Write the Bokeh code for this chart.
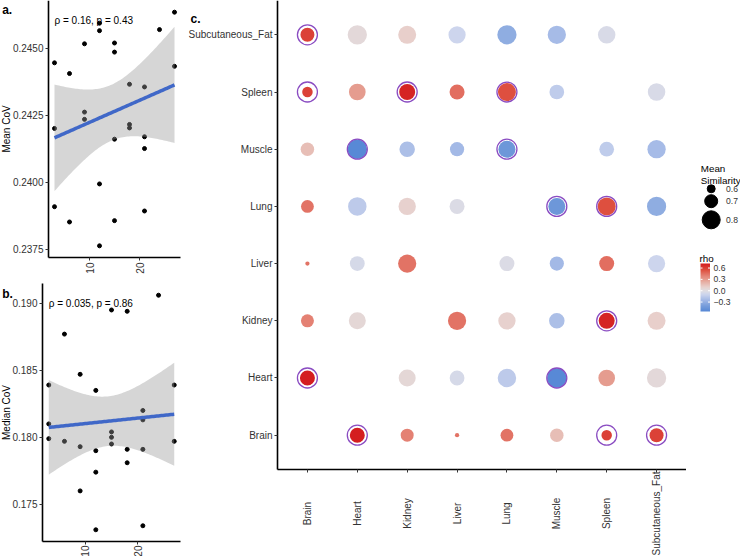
import numpy as np
from bokeh.plotting import figure
from bokeh.models import (Range1d, FixedTicker, PrintfTickFormatter,
                          ColumnDataSource, LinearColorMapper)
from bokeh.layouts import row, column
from bokeh.embed import file_html
from bokeh.resources import INLINE
from bokeh.core.properties import value

FONT = "Liberation Sans"

# ---------------- panels a / b data ----------------
donor_x = [3, 3, 3, 6, 6, 9, 9, 9, 12, 12, 12, 12, 15, 15, 15, 15,
           18, 18, 18, 21, 21, 21, 21, 24, 27, 27]
mean_cov = [0.24446, 0.24201, 0.23909, 0.24406, 0.23852, 0.24517, 0.24262, 0.24235,
            0.24594, 0.24566, 0.23994, 0.23763, 0.24520, 0.24486, 0.24161, 0.23857,
            0.24366, 0.24216, 0.24203, 0.24356, 0.24170, 0.24126, 0.23893, 0.24570,
            0.24635, 0.24433]
median_cov = [0.1839, 0.1810, 0.1799, 0.1877, 0.1797, 0.1847, 0.1793, 0.1760,
              0.1835, 0.1790, 0.1774, 0.1731, 0.1895, 0.1804, 0.1800, 0.1795,
              0.1894, 0.1791, 0.1781, 0.1820, 0.1813, 0.1791, 0.1734, 0.1906,
              0.1839, 0.1797]
x_ticks = [10, 20]
mean_ticks = [0.2375, 0.2400, 0.2425, 0.2450]
median_ticks = [0.175, 0.180, 0.185, 0.190]
note_a = "ρ = 0.16, p = 0.43"
note_b = "ρ = 0.035, p = 0.86"
note_a_y = 0.24605
note_b_y = 0.1900

# ---------------- panel c data ----------------
tissues = ["Brain", "Heart", "Kidney", "Liver", "Lung", "Muscle", "Spleen", "Subcutaneous_Fat"]
pair_a = ["Brain", "Brain", "Brain", "Brain", "Brain", "Brain", "Brain",
          "Heart", "Heart", "Heart", "Heart", "Heart", "Heart",
          "Kidney", "Kidney", "Kidney", "Kidney", "Kidney",
          "Liver", "Liver", "Liver", "Liver",
          "Lung", "Lung", "Lung",
          "Muscle", "Muscle",
          "Spleen"]
pair_b = ["Heart", "Kidney", "Liver", "Lung", "Muscle", "Spleen", "Subcutaneous_Fat",
          "Kidney", "Liver", "Lung", "Muscle", "Spleen", "Subcutaneous_Fat",
          "Liver", "Lung", "Muscle", "Spleen", "Subcutaneous_Fat",
          "Lung", "Muscle", "Spleen", "Subcutaneous_Fat",
          "Muscle", "Spleen", "Subcutaneous_Fat",
          "Spleen", "Subcutaneous_Fat",
          "Subcutaneous_Fat"]
pair_rho = [0.72, 0.40, 0.44, 0.44, 0.17, 0.60, 0.60,
            0.05, -0.06, -0.16, -0.55, 0.30, 0.04,
            0.44, 0.09, -0.22, 0.70, 0.10,
            -0.03, -0.25, 0.46, -0.10,
            -0.45, 0.55, -0.32,
            -0.15, -0.24,
            -0.04]
pair_sim = [0.74, 0.70, 0.526, 0.696, 0.71, 0.65, 0.72,
            0.78, 0.736, 0.81, 0.83, 0.774, 0.826,
            0.804, 0.786, 0.75, 0.76, 0.80,
            0.74, 0.724, 0.74, 0.784,
            0.78, 0.80, 0.824,
            0.734, 0.806,
            0.79]
pair_sig = [1, 0, 0, 0, 0, 1, 1,
            0, 0, 0, 1, 0, 0,
            0, 0, 0, 1, 0,
            0, 0, 0, 0,
            1, 1, 0,
            0, 0,
            0]
size_breaks = [0.6, 0.7, 0.8]
rho_breaks = [0.6, 0.3, 0.0, -0.3]
rho_break_labels = ["0.6", "0.3", "0.0", "\u22120.3"]
rho_low, rho_high = -0.55, 0.72

# colour scale anchors (palette definition)
rho_anchor = [-0.55, -0.4, -0.25, -0.1, 0.0, 0.1, 0.25, 0.4, 0.55, 0.72]
rgb_anchor = [(88, 137, 214), (120, 158, 219), (163, 185, 230), (205, 213, 237),
              (224, 222, 226), (232, 208, 204), (230, 170, 158), (228, 130, 116),
              (222, 80, 64), (212, 30, 32)]
grid_vals = np.linspace(rho_low, rho_high, 254)
palette = ['#%02x%02x%02x' % tuple(int(round(np.interp(g, rho_anchor, [c[i] for c in rgb_anchor])))
                                    for i in range(3)) for g in grid_vals]
mapper = LinearColorMapper(palette=palette, low=rho_low, high=rho_high)


def sim_to_size(v):
    return 8 + 50 * (v - 0.6)


def lin(p0, p1, d0, d1):
    """linear map from page pixel -> data value"""
    k = (d1 - d0) / (p1 - p0)
    return lambda pg: d0 + (pg - p0) * k


def lm_band(xs, ys, n_pts=80):
    x = np.asarray(xs, float)
    y = np.asarray(ys, float)
    n = len(x)
    xb = x.mean()
    sxx = ((x - xb) ** 2).sum()
    b = ((x - xb) * (y - y.mean())).sum() / sxx
    a = y.mean() - b * xb
    s = np.sqrt(((y - (a + b * x)) ** 2).sum() / (n - 2))
    gx = np.linspace(x.min(), x.max(), n_pts)
    fit = a + b * gx
    se = s * np.sqrt(1.0 / n + (gx - xb) ** 2 / sxx)
    t = 2.0639
    return gx, fit, fit - t * se, fit + t * se


def style_axes(p):
    for ax in p.axis:
        ax.axis_line_color = "black"
        ax.axis_line_width = 1.6
        ax.major_tick_line_color = "#333333"
        ax.major_tick_out = 3
        ax.major_tick_in = 0
        ax.minor_tick_line_color = None
        ax.major_label_text_font = FONT
        ax.major_label_text_font_size = "10px"
        ax.major_label_text_color = "#333333"
        ax.major_label_standoff = 2


def bare_figure(w, h, xr, yr):
    p = figure(width=w, height=h, x_range=xr, y_range=yr, output_backend="svg",
               toolbar_location=None, min_border=0)
    p.grid.visible = False
    p.outline_line_color = None
    return p


LEFT_X, LEFT_W = 0, 188
TOTAL_H = 556


def scatter_panel(xv, yv, yticks, fmt, ylabel, note, note_y, tag,
                  fig_top, fig_h, frame_left, frame_right, frame_top, frame_bottom,
                  tag_xy, label_x):
    lo, hi = min(yv), max(yv)
    ylo, yhi = lo - 0.05 * (hi - lo), hi + 0.05 * (hi - lo)
    xl, xh = min(xv), max(xv)
    xlo, xhi = xl - 0.05 * (xh - xl), xh + 0.05 * (xh - xl)
    fx = lin(frame_left, frame_right, xlo, xhi)
    fy = lin(frame_bottom, frame_top, ylo, yhi)
    p = bare_figure(LEFT_W, fig_h,
                    Range1d(fx(LEFT_X), fx(LEFT_X + LEFT_W)),
                    Range1d(fy(fig_top + fig_h), fy(fig_top)))
    p.scatter(xv, yv, size=4, color="black")
    gx, fit, lw, up = lm_band(xv, yv)
    p.varea(x=gx, y1=lw, y2=up, fill_color="#999999", fill_alpha=0.4)
    p.line(gx, fit, line_color="#4068C8", line_width=3.5)
    p.text(x=[xl], y=[note_y], text=[note], text_font=value(FONT), text_font_size="10px",
           text_baseline="middle", text_align="left", text_color="black")
    p.text(x=[fx(tag_xy[0])], y=[fy(tag_xy[1])], text=[tag], text_font=value(FONT),
           text_font_size="12px", text_font_style="bold", text_baseline="alphabetic",
           text_color="black")
    p.text(x=[fx(label_x)], y=[(ylo + yhi) / 2], text=[ylabel], angle=np.pi / 2,
           text_font=value(FONT), text_font_size="10px", text_align="center",
           text_baseline="middle", text_color="black")
    p.xaxis.ticker = FixedTicker(ticks=x_ticks)
    p.xaxis.major_label_orientation = np.pi / 2
    p.xaxis.fixed_location = ylo
    p.xaxis.bounds = (xlo, xhi)
    p.yaxis.ticker = FixedTicker(ticks=yticks)
    p.yaxis.formatter = PrintfTickFormatter(format=fmt)
    p.yaxis.fixed_location = xlo
    p.yaxis.bounds = (ylo, yhi)
    style_axes(p)
    return p


A_H = 280
pa = scatter_panel(donor_x, mean_cov, mean_ticks, "%.4f", "Mean CoV", note_a, note_a_y, "a.",
                   0, A_H, 48, 180, 0, 257, (1.7, 9.3), 5.5)
pb = scatter_panel(donor_x, median_cov, median_ticks, "%.3f", "Median CoV", note_b, note_b_y, "b.",
                   A_H, TOTAL_H - A_H, 42, 180, 283, 541, (1.7, 293.3), 5.5)
pb.xaxis.major_label_standoff = 1

# ---------------- panel c ----------------
C_LEFT, C_W, C_TOP, C_H = LEFT_W, 686 - LEFT_W, 0, TOTAL_H
fxc = lin(277, 686, -0.6, 7.6)
fyc = lin(469, 0, -0.6, 7.6)
idx = {t: i for i, t in enumerate(tissues)}

cx, cy, cr, cs, cg = [], [], [], [], []
for a, b, r, s, g in zip(pair_a, pair_b, pair_rho, pair_sim, pair_sig):
    for col, rw in ((a, b), (b, a)):
        cx.append(idx[col])
        cy.append(idx[rw])
        cr.append(r)
        cs.append(s)
        cg.append(g)
src = ColumnDataSource(dict(x=cx, y=cy, rho=cr, sim=cs, size=[sim_to_size(v) for v in cs]))
sig_src = ColumnDataSource(dict(x=[c for c, g in zip(cx, cg) if g],
                                y=[r for r, g in zip(cy, cg) if g]))

pc = bare_figure(C_W, C_H, Range1d(fxc(C_LEFT), fxc(C_LEFT + C_W)),
                 Range1d(fyc(C_TOP + C_H), fyc(C_TOP)))
pc.scatter("x", "y", source=src, size="size",
           fill_color={"field": "rho", "transform": mapper}, line_color=None)
pc.scatter("x", "y", source=sig_src, size=20, fill_color=None,
           line_color="#8A4CC2", line_width=1.3)
tick_idx = list(range(len(tissues)))
pc.xaxis.ticker = FixedTicker(ticks=tick_idx)
pc.yaxis.ticker = FixedTicker(ticks=tick_idx)
pc.yaxis.major_label_overrides = {i: t for i, t in enumerate(tissues)}
pc.xaxis.fixed_location = -0.6
pc.yaxis.fixed_location = -0.6
pc.xaxis.bounds = (-0.6, 7.6)
pc.yaxis.bounds = (-0.6, 7.6)
style_axes(pc)
pc.xaxis.major_label_text_color = None
pc.xaxis.major_label_text_alpha = 0
pc.text(x=tick_idx, y=[fyc(513.0)] * len(tissues), text=tissues, angle=np.pi / 2,
        text_align="center", text_baseline="middle", text_font=value(FONT),
        text_font_size="10px", text_color="#333333")
pc.text(x=[fxc(190.0)], y=[fyc(18.3)], text=["c."], text_font=value(FONT),
        text_font_size="12px", text_font_style="bold", text_baseline="alphabetic",
        text_color="black")

# ---------------- legends ----------------
L_W = 54
H = TOTAL_H
pl = bare_figure(L_W, H, Range1d(0, L_W), Range1d(0, H))
pl.axis.visible = False

pl.text(x=[14.3, 14.3], y=[H - 168.0, H - 180.0], text=["Mean", "Similarity"],
        text_font=value(FONT), text_font_size="9.8px", text_baseline="alphabetic",
        text_color="black")
leg_y = [H - 188.3, H - 200.7, H - 219.3]
pl.scatter(x=[24.7] * 3, y=leg_y, size=[sim_to_size(v) for v in size_breaks], color="black")
pl.text(x=[39.5] * 3, y=leg_y, text=["%.1f" % v for v in size_breaks], text_font=value(FONT),
        text_font_size="8.6px", text_baseline="middle", text_color="#333333")

bar_bottom, bar_h, bar_x, bar_w = H - 311.0, 48.0, 14.0, 9.5
pl.text(x=[13.0], y=[H - 257.5], text=["rho"], text_font=value(FONT), text_font_size="9.8px",
        text_baseline="alphabetic", text_color="black")
pl.image(image=[np.linspace(rho_low, rho_high, 120).reshape(-1, 1)], x=bar_x, y=bar_bottom,
         dw=bar_w, dh=bar_h, color_mapper=mapper)
tick_y = [bar_bottom + (v - rho_low) / (rho_high - rho_low) * bar_h for v in rho_breaks]
pl.segment(x0=[bar_x] * 4, x1=[bar_x + 2] * 4, y0=tick_y, y1=tick_y, line_color="white", line_width=1)
pl.segment(x0=[bar_x + bar_w - 2] * 4, x1=[bar_x + bar_w] * 4, y0=tick_y, y1=tick_y,
           line_color="white", line_width=1)
pl.text(x=[27.0] * 4, y=tick_y, text=rho_break_labels, text_font=value(FONT),
        text_font_size="8.6px", text_baseline="middle", text_color="#333333")

layout = row(column(pa, pb), pc, pl)
open("out.html", "w").write(file_html(layout, INLINE))
